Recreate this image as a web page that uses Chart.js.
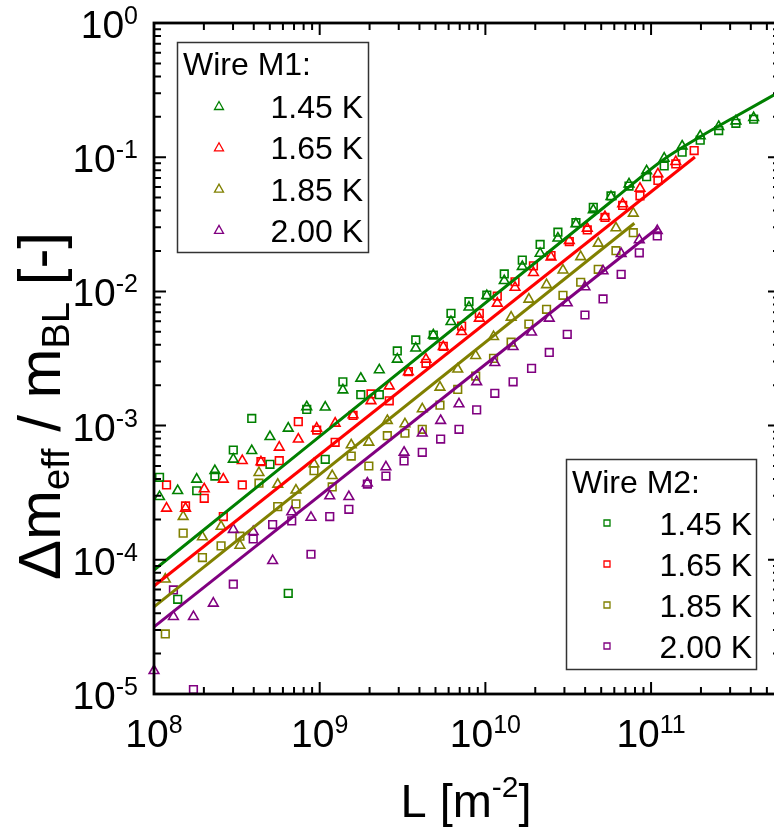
<!DOCTYPE html>
<html>
<head>
<meta charset="utf-8">
<script src="https://cdn.jsdelivr.net/npm/chart.js@4.4.0/dist/chart.umd.min.js"></script>
<style>
    html, body { margin: 0; padding: 0; background: #fff; overflow: hidden; }
    #wrap { width: 800px; height: 829px; }
</style>
</head>
<body>
<div id="wrap"><canvas id="myChart" width="800" height="829"></canvas></div>
<script>
// L [m^-2] para cada temperatura (mesma grade p/ triângulos e quadrados)
let lVerde = [1.08e8, 1.39e8, 1.81e8, 2.33e8, 3.01e8, 3.89e8, 5.01e8, 6.46e8, 8.35e8, 1.08e9, 1.38e9, 1.77e9, 2.29e9, 2.94e9, 3.80e9, 4.85e9, 6.20e9, 7.96e9, 1.02e10, 1.30e10, 1.67e10, 2.14e10, 2.74e10, 3.52e10, 4.48e10, 5.73e10, 7.36e10, 9.40e10, 1.20e11, 1.54e11, 1.98e11, 2.56e11, 3.25e11, 4.16e11];
let lVermelho = [1.19e8, 1.55e8, 2.01e8, 2.62e8, 3.41e8, 4.42e8, 5.70e8, 7.43e8, 9.59e8, 1.24e9, 1.59e9, 2.04e9, 2.63e9, 3.43e9, 4.38e9, 5.57e9, 7.19e9, 9.19e9, 1.18e10, 1.51e10, 1.95e10, 2.49e10, 3.21e10, 4.12e10, 5.27e10, 6.74e10, 8.57e10, 1.10e11, 1.41e11, 1.82e11];
let lOliva = [1.17e8, 1.50e8, 1.96e8, 2.54e8, 3.30e8, 4.30e8, 5.58e8, 7.19e8, 9.24e8, 1.19e9, 1.55e9, 1.98e9, 2.56e9, 3.27e9, 4.16e9, 5.32e9, 6.81e9, 8.74e9, 1.12e10, 1.43e10, 1.83e10, 2.34e10, 2.94e10, 3.76e10, 4.80e10, 6.14e10, 7.81e10];
let lRoxo = [1.0e8, 1.31e8, 1.73e8, 2.28e8, 3.01e8, 3.97e8, 5.20e8, 6.78e8, 8.86e8, 1.15e9, 1.50e9, 1.94e9, 2.51e9, 3.23e9, 4.16e9, 5.37e9, 6.93e9, 8.86e9, 1.14e10, 1.47e10, 1.90e10, 2.43e10, 3.12e10, 3.99e10, 5.13e10, 6.60e10, 8.49e10, 1.09e11];

// Wire M1 (triângulos)
let m1_145 = [2.95e-4, 3.27e-4, 3.98e-4, 4.61e-4, 5.61e-4, 6.50e-4, 8.26e-4, 9.55e-4, 1.38e-3, 1.37e-3, 1.84e-3, 2.25e-3, 2.60e-3, 3.12e-3, 3.77e-3, 4.73e-3, 5.94e-3, 7.62e-3, 9.29e-3, 1.20e-2, 1.53e-2, 1.92e-2, 2.49e-2, 3.18e-2, 4.04e-2, 5.08e-2, 6.31e-2, 7.89e-2, 9.81e-2, 0.121, 0.144, 0.169, 0.186, 0.197];
let m1_165 = [2.42e-4, 2.42e-4, 3.37e-4, 3.98e-4, 5.48e-4, 5.36e-4, 6.89e-4, 7.91e-4, 9.55e-4, 1.04e-3, 1.20e-3, 1.53e-3, 1.97e-3, 2.51e-3, 3.12e-3, 3.87e-3, 5.01e-3, 6.30e-3, 8.15e-3, 1.07e-2, 1.38e-2, 1.80e-2, 2.39e-2, 2.95e-2, 3.60e-2, 4.48e-2, 5.86e-2, 7.50e-2, 9.26e-2, null];
let m1_185 = [7.16e-5, 2.10e-4, 1.48e-4, 1.77e-4, 1.28e-4, 4.46e-4, 3.65e-4, 3.30e-4, 5.18e-4, 4.23e-4, 7.17e-4, 7.51e-4, 1.09e-3, 1.03e-3, 1.33e-3, 1.93e-3, 2.63e-3, 3.32e-3, 4.60e-3, 6.41e-3, 8.73e-3, 1.12e-2, 1.44e-2, 1.81e-2, 2.28e-2, 2.97e-2, 3.82e-2];
let m1_200 = [1.49e-5, 3.77e-5, 3.77e-5, 4.74e-5, 1.68e-4, 1.62e-4, 9.85e-5, 2.27e-4, 2.07e-4, 2.99e-4, 2.95e-4, 3.72e-4, 4.92e-4, 6.32e-4, 8.77e-4, 1.09e-3, 1.45e-3, 2.12e-3, 2.94e-3, 3.87e-3, 4.96e-3, 6.30e-3, 8.20e-3, 1.08e-2, 1.42e-2, 1.91e-2, 2.42e-2, 2.83e-2];

// Wire M2 (quadrados)
let m2_145 = [4.12e-4, 5.08e-5, 3.27e-4, 4.21e-4, 6.58e-4, 1.13e-3, 5.15e-4, 5.63e-5, 1.32e-3, 5.61e-4, 2.12e-3, 1.70e-3, 1.70e-3, 3.60e-3, 4.35e-3, 4.73e-3, 6.87e-3, 8.38e-3, 9.40e-3, 1.35e-2, 1.71e-2, 2.24e-2, 2.76e-2, 3.25e-2, 4.23e-2, 5.14e-2, 6.10e-2, 7.16e-2, 8.60e-2, 0.109, 0.134, 0.158, 0.179, 0.192];
let m2_165 = [3.61e-4, 2.52e-4, 2.87e-4, 2.10e-4, 3.61e-4, 5.38e-4, 5.48e-4, 1.07e-3, 9.27e-4, 7.51e-4, 1.19e-3, 1.72e-3, 1.53e-3, 2.52e-3, 2.91e-3, 3.90e-3, 5.52e-3, 6.87e-3, 9.24e-3, 1.18e-2, 1.55e-2, 1.85e-2, 2.35e-2, 2.87e-2, 3.56e-2, 4.37e-2, 5.16e-2, 6.71e-2, 8.90e-2, 0.112];
let m2_185 = [2.80e-5, 1.58e-4, 1.04e-4, 1.27e-4, 1.50e-4, 3.72e-4, 2.49e-4, 2.61e-4, 4.61e-4, 3.49e-4, 5.93e-4, 5.00e-4, 8.41e-4, 8.77e-4, 9.38e-4, 1.42e-3, 1.86e-3, 2.34e-3, 3.17e-3, 4.18e-3, 5.71e-3, 7.36e-3, 9.35e-3, 1.17e-2, 1.46e-2, 2.01e-2, 2.74e-2];
let m2_200 = [null, 5.96e-5, 1.08e-5, null, 6.58e-5, 1.43e-4, 1.83e-4, 1.95e-4, 1.10e-4, 2.10e-4, 2.38e-4, 3.67e-4, 4.21e-4, 5.45e-4, 6.32e-4, 7.94e-4, 9.38e-4, 1.31e-3, 1.74e-3, 2.12e-3, 2.67e-3, 3.51e-3, 4.79e-3, 6.67e-3, 8.78e-3, 1.34e-2, 1.94e-2, 2.59e-2];

// curvas de ajuste
let ajuste145L = [1.0e8, 5.9e10, 1.18e11, 1.97e11, 3.12e11, 6.0e11];
let ajuste145Y = [8.4e-5, 0.048, 0.0953, 0.1415, 0.196, 0.308];
let ajuste165L = [1.0e8, 1.84e11];
let ajuste165Y = [6.38e-5, 0.1004];
let ajuste185L = [1.0e8, 7.93e10];
let ajuste185Y = [4.46e-5, 0.0322];
let ajuste200L = [1.0e8, 1.1e11];
let ajuste200Y = [3.16e-5, 0.0298];

let temperaturas = ['1.45 K', '1.65 K', '1.85 K', '2.00 K'];
let cores = ['#008000', '#ff0000', '#808000', '#800080'];
let expX = [8, 9, 10, 11];
let expY = [-5, -4, -3, -2, -1, 0];
let xMin = 1e8, xMax = 6e11, yMin = 1e-5, yMax = 1;

const FONTE = '"Liberation Sans", Arial, sans-serif';

function pares(ls, vs) {
    let out = [];
    for (let i = 0; i < vs.length; i++) {
        if (vs[i] !== null && vs[i] !== undefined) out.push({ x: ls[i], y: vs[i] });
    }
    return out;
}

function linhaAjuste(ls, vs, cor, suave) {
    return {
        data: pares(ls, vs),
        showLine: true,
        borderColor: cor,
        borderWidth: 3,
        pointRadius: 0,
        cubicInterpolationMode: suave ? 'monotone' : 'default',
        order: 0
    };
}

function marcadores(ls, vs, cor, estilo) {
    return {
        data: pares(ls, vs),
        showLine: false,
        pointStyle: estilo,
        pointRadius: estilo === 'triangle' ? 5.6 : 5.4,
        borderColor: cor,
        backgroundColor: 'rgba(0,0,0,0)',
        pointBorderWidth: 1.6,
        clip: false,
        order: 1
    };
}

function potencia(ctx, base, exp, x, y, tam, tamExp, alinh) {
    ctx.font = tam + 'px ' + FONTE;
    let wb = ctx.measureText(base).width;
    ctx.font = tamExp + 'px ' + FONTE;
    let we = ctx.measureText(exp).width;
    let x0 = alinh === 'right' ? x - wb - we : x - (wb + we) / 2;
    ctx.textAlign = 'left';
    ctx.textBaseline = 'alphabetic';
    ctx.font = tam + 'px ' + FONTE;
    ctx.fillText(base, x0, y);
    ctx.font = tamExp + 'px ' + FONTE;
    ctx.fillText(exp, x0 + wb, y - tam * 0.36);
}

function textoRico(ctx, partes, cx, cy, girar) {
    let total = 0;
    partes.forEach(function(p) {
        ctx.font = p.tam + 'px ' + FONTE;
        p.w = ctx.measureText(p.t).width;
        total += p.w;
    });
    ctx.save();
    ctx.translate(cx, cy);
    if (girar) ctx.rotate(-Math.PI / 2);
    ctx.textAlign = 'left';
    ctx.textBaseline = 'alphabetic';
    let x = -total / 2;
    partes.forEach(function(p) {
        ctx.font = p.tam + 'px ' + FONTE;
        ctx.fillText(p.t, x, p.dy);
        x += p.w;
    });
    ctx.restore();
}

function simbolo(ctx, estilo, x, y, cor) {
    ctx.save();
    ctx.strokeStyle = cor;
    ctx.lineWidth = 1.3;
    ctx.beginPath();
    if (estilo === 'triangle') {
        ctx.moveTo(x, y - 4.5);
        ctx.lineTo(x + 4.5, y + 3.5);
        ctx.lineTo(x - 4.5, y + 3.5);
        ctx.closePath();
    } else {
        ctx.rect(x - 3, y - 3, 6, 6);
    }
    ctx.stroke();
    ctx.restore();
}

function legenda(ctx, caixa, titulo, tituloX, tituloY, estilo, marcX, textoX, linha0, passo) {
    ctx.save();
    ctx.strokeStyle = '#333';
    ctx.lineWidth = 1.5;
    ctx.strokeRect(caixa[0], caixa[1], caixa[2], caixa[3]);
    ctx.fillStyle = '#000';
    ctx.font = '32px ' + FONTE;
    ctx.textAlign = 'left';
    ctx.textBaseline = 'alphabetic';
    ctx.fillText(titulo, tituloX, tituloY);
    for (let i = 0; i < temperaturas.length; i++) {
        let yb = linha0 + i * passo;
        simbolo(ctx, estilo, marcX, yb - 12, cores[i]);
        ctx.fillStyle = '#000';
        ctx.font = '32px ' + FONTE;
        ctx.textAlign = 'right';
        ctx.fillText(temperaturas[i], textoX, yb);
    }
    ctx.restore();
}

const eixosPlugin = {
    id: 'eixos',
    afterDatasetsDraw(chart) {
        let ctx = chart.ctx;
        let a = chart.chartArea;
        let sx = chart.scales.x, sy = chart.scales.y;
        ctx.save();
        ctx.strokeStyle = '#000';
        ctx.lineCap = 'butt';
        ctx.lineWidth = 2;
        ctx.beginPath();
        expX.forEach(function(e) {
            for (let m = 1; m <= 9; m++) {
                let v = m * Math.pow(10, e);
                if (v > xMax) break;
                let px = sx.getPixelForValue(v);
                let len = m === 1 ? 12 : 7;
                ctx.moveTo(px, a.bottom); ctx.lineTo(px, a.bottom - len);
                ctx.moveTo(px, a.top); ctx.lineTo(px, a.top + len);
            }
        });
        expY.forEach(function(e) {
            for (let m = 1; m <= 9; m++) {
                let v = m * Math.pow(10, e);
                if (v > yMax) break;
                let py = sy.getPixelForValue(v);
                let len = m === 1 ? 12 : 7;
                ctx.moveTo(a.left, py); ctx.lineTo(a.left + len, py);
                ctx.moveTo(a.right, py); ctx.lineTo(a.right - len, py);
            }
        });
        ctx.stroke();
        ctx.lineWidth = 2.8;
        ctx.strokeRect(a.left, a.top, a.right - a.left, a.bottom - a.top);
        ctx.restore();
    },
    afterDraw(chart) {
        let ctx = chart.ctx;
        let a = chart.chartArea;
        let sx = chart.scales.x, sy = chart.scales.y;
        ctx.save();
        ctx.fillStyle = '#000';
        expX.forEach(function(e) {
            potencia(ctx, '10', String(e), sx.getPixelForValue(Math.pow(10, e)), a.bottom + 53, 39, 25, 'center');
        });
        expY.forEach(function(e) {
            potencia(ctx, '10', String(e), 138, sy.getPixelForValue(Math.pow(10, e)) + 15, 39, 25, 'right');
        });
        // titulos dos eixos
        textoRico(ctx, [
            { t: 'L [m', tam: 47, dy: 0 },
            { t: '-2', tam: 30, dy: -20 },
            { t: ']', tam: 47, dy: 0 }
        ], 466, 817, false);
        textoRico(ctx, [
            { t: '\u0394m', tam: 60, dy: 0 },
            { t: 'eff', tam: 38, dy: 9 },
            { t: ' / m', tam: 60, dy: 0 },
            { t: 'BL', tam: 38, dy: 9 },
            { t: ' [-]', tam: 60, dy: 0 }
        ], 60, 406, true);

        legenda(ctx, [177.5, 42.5, 191, 210], 'Wire M1:', 183, 75, 'triangle', 219, 363, 118, 41.3);
        legenda(ctx, [566.5, 459.5, 190, 210], 'Wire M2:', 572, 493, 'rect', 607, 752, 535, 41);
        ctx.restore();
    }
};

let datasets = [
    linhaAjuste(ajuste145L, ajuste145Y, cores[0], true),
    linhaAjuste(ajuste165L, ajuste165Y, cores[1], false),
    linhaAjuste(ajuste185L, ajuste185Y, cores[2], false),
    linhaAjuste(ajuste200L, ajuste200Y, cores[3], false),
    marcadores(lVerde, m1_145, cores[0], 'triangle'),
    marcadores(lVermelho, m1_165, cores[1], 'triangle'),
    marcadores(lOliva, m1_185, cores[2], 'triangle'),
    marcadores(lRoxo, m1_200, cores[3], 'triangle'),
    marcadores(lVerde, m2_145, cores[0], 'rect'),
    marcadores(lVermelho, m2_165, cores[1], 'rect'),
    marcadores(lOliva, m2_185, cores[2], 'rect'),
    marcadores(lRoxo, m2_200, cores[3], 'rect')
];

let ctx = document.getElementById('myChart').getContext('2d');
let grafico = new Chart(ctx, {
    type: 'scatter',
    data: { datasets: datasets },
    options: {
        responsive: false,
        devicePixelRatio: 1,
        animation: false,
        layout: { padding: { left: 154, top: 23, right: 20, bottom: 135 } },
        scales: {
            x: { type: 'logarithmic', min: xMin, max: xMax, display: false },
            y: { type: 'logarithmic', min: yMin, max: yMax, display: false }
        },
        plugins: {
            legend: { display: false },
            tooltip: { enabled: false }
        }
    },
    plugins: [eixosPlugin]
});
</script>
</body>
</html>
